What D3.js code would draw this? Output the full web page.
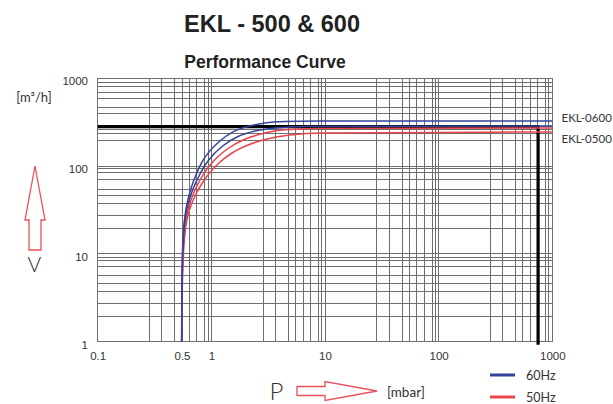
<!DOCTYPE html>
<html><head><meta charset="utf-8">
<script src="https://cdn.jsdelivr.net/npm/d3@7/dist/d3.min.js"></script>
<style>body{margin:0;background:#fff}svg{display:block}</style>
</head><body>
<script>
// ---- data ----
const xTickValues = [0.1, 0.552, 1, 10, 100, 1000];
const xTickLabels = ["0.1", "0.5", "1", "10", "100", "1000"];
const yTickValues = [1, 10, 100, 1000];
const yTickLabels = ["1", "10", "100", "1000"];
const xDecades = [0.1, 1, 10, 100, 1000];
const xGridMultipliers = [2.86, 3.67, 4.77, 5.52, 6.41, 7.46, 8.74, 9.35];
const yGridValues = [1, 1.93, 2.74, 3.71, 4.63, 5.75, 7.15, 8.5, 9.15,
  10, 19.6, 27.2, 37.7, 46, 54.8, 69.5, 85, 94.2,
  100, 197, 234, 262, 285, 395, 471, 586, 685, 796, 907, 1000];

const seriesNames = ["EKL-0600 60Hz", "EKL-0500 60Hz", "EKL-0600 50Hz", "EKL-0500 50Hz"];
const ekl0600_60_p = [0.548, 0.549, 0.554, 0.568, 0.591, 0.622, 0.668, 0.732, 0.826, 0.971, 1.19, 1.55, 2.1, 2.96, 4.43, 9, 1000];
const ekl0600_60_v = [1, 2.99, 8.1, 17.8, 29.2, 41.1, 57.8, 79.2, 111, 149, 193, 245, 283, 310, 322, 326, 326];
const ekl0500_60_p = [0.548, 0.5505, 0.5573, 0.5722, 0.5982, 0.6357, 0.6895, 0.763, 0.8705, 1.034, 1.292, 1.716, 2.421, 3.631, 6.669, 1000];
const ekl0500_60_v = [1, 2.99, 8.09, 17.3, 28.5, 40.1, 54.9, 73.2, 100.3, 133.8, 173.9, 217.4, 251.1, 271.6, 282.5, 286.2];
const ekl0600_50_p = [0.548, 0.5516, 0.5606, 0.5781, 0.608, 0.6488, 0.7107, 0.7946, 0.9157, 1.099, 1.401, 1.899, 2.734, 4.184, 8.168, 1000];
const ekl0600_50_v = [1, 2.99, 8.09, 16.86, 27.74, 37.98, 52.05, 69.45, 92.7, 122.1, 158.7, 198.3, 232.1, 257.8, 268.1, 271.6];
const ekl0500_50_p = [0.548, 0.5527, 0.564, 0.584, 0.618, 0.6648, 0.7326, 0.8276, 0.9632, 1.1675, 1.519, 2.101, 3.088, 4.92, 10.0, 1000];
const ekl0500_50_v = [1, 2.99, 8.09, 16.42, 26.33, 36.06, 48.1, 63.36, 83.44, 108.5, 141.0, 173.9, 203.5, 226.1, 238.3, 244.6];

const markerP = 750;   // mbar
const markerV = 281;   // m3/h

const legendLabels = ["60Hz", "50Hz"];
const curveLabels = ["EKL-0600", "EKL-0500"];

// ---- drawing ----
const W = 613, H = 404;
const BLUE = "#34439a", RED = "#e6464b", ARROW = "#e8505a";
const svg = d3.select("body").append("svg").attr("width", W).attr("height", H);

const x = d3.scaleLog().domain([0.1, 1000]).range([97.7, 552.3]);
const y = d3.scaleLog().domain([1, 1000]).range([341.7, 78.3]);

// titles
svg.append("text").attr("x", 272).attr("y", 31.5).attr("text-anchor", "middle")
  .attr("font-family", "Liberation Sans, Arial, sans-serif").attr("font-weight", "bold")
  .attr("font-size", 23.5).attr("fill", "#222").text("EKL - 500 & 600");
svg.append("text").attr("x", 265).attr("y", 68).attr("text-anchor", "middle")
  .attr("font-family", "Liberation Sans, Arial, sans-serif").attr("font-weight", "bold")
  .attr("font-size", 17.5).attr("fill", "#222").text("Performance Curve");

// grid
const xGridValues = [];
xDecades.forEach((d, i) => {
  xGridValues.push(d);
  if (i < xDecades.length - 1) xGridMultipliers.forEach(m => xGridValues.push(d * m));
});
const grid = svg.append("g").attr("stroke", "#6e6e6e").attr("stroke-width", 1).attr("shape-rendering", "crispEdges");
grid.selectAll("line.v").data(xGridValues).join("line").attr("class", "v")
  .attr("x1", d => x(d)).attr("x2", d => x(d)).attr("y1", y(1000)).attr("y2", y(1));
grid.selectAll("line.h").data(yGridValues).join("line").attr("class", "h")
  .attr("x1", x(0.1)).attr("x2", x(1000)).attr("y1", d => y(d)).attr("y2", d => y(d));

// axes (labels only)
const fontAxis = "Liberation Sans, Arial, sans-serif";
const gx = svg.append("g").attr("transform", `translate(0,${y(1)})`)
  .call(d3.axisBottom(x).tickValues(xTickValues).tickFormat((d, i) => xTickLabels[i]).tickSize(0).tickPadding(10));
gx.select(".domain").remove();
gx.selectAll("text").attr("font-family", fontAxis).attr("font-size", 11.5).attr("fill", "#333");
const gy = svg.append("g").attr("transform", `translate(${x(0.1)},0)`)
  .call(d3.axisLeft(y).tickValues(yTickValues).tickFormat((d, i) => yTickLabels[i]).tickSize(0).tickPadding(9.7));
gy.select(".domain").remove();
gy.selectAll("text").attr("font-family", fontAxis).attr("font-size", 11.5).attr("fill", "#333").attr("dy", "0.55em");

// black marker lines
svg.append("path")
  .attr("d", `M${x(0.1)},${y(markerV)}H${x(markerP)}V${y(1) + 3}`)
  .attr("fill", "none").attr("stroke", "#000").attr("stroke-width", 3.2);

// curves
const line = d3.line().x(d => x(d[0])).y(d => y(d[1])).curve(d3.curveMonotoneX);
const curves = [
  {p: ekl0500_50_p, v: ekl0500_50_v, c: RED},
  {p: ekl0600_50_p, v: ekl0600_50_v, c: RED},
  {p: ekl0500_60_p, v: ekl0500_60_v, c: BLUE},
  {p: ekl0600_60_p, v: ekl0600_60_v, c: BLUE}
];
svg.append("g").selectAll("path").data(curves).join("path")
  .attr("d", d => line(d.p.map((p, i) => [p, d.v[i]])))
  .attr("fill", "none").attr("stroke", d => d.c).attr("stroke-width", 1.5);

// curve labels at right
const fontRound = "Lato, 'Open Sans', sans-serif";
svg.append("text").attr("x", 561.5).attr("y", 122).attr("font-family", fontRound)
  .attr("font-size", 11.5).attr("fill", "#333").text(curveLabels[0]);
svg.append("text").attr("x", 561.5).attr("y", 143).attr("font-family", fontRound)
  .attr("font-size", 11.5).attr("fill", "#333").text(curveLabels[1]);

// legend
[[BLUE, 375, legendLabels[0]], [RED, 397, legendLabels[1]]].forEach(([c, yy, t]) => {
  svg.append("line").attr("x1", 490).attr("x2", 515).attr("y1", yy).attr("y2", yy)
    .attr("stroke", c).attr("stroke-width", 3);
  svg.append("text").attr("x", 526).attr("y", yy + 4.5).attr("font-family", fontRound)
    .attr("font-size", 12.5).attr("fill", "#333").text(t);
});

// axis name labels with arrows
svg.append("text").attr("x", 34).attr("y", 101.5).attr("text-anchor", "middle")
  .attr("font-family", fontRound).attr("font-size", 13).attr("fill", "#333").text("[m³/h]");
svg.append("path")
  .attr("d", "M35,166L45,220L41,220L41,250L29,250L29,220L25,220Z")
  .attr("fill", "#fff").attr("stroke", ARROW).attr("stroke-width", 1.3);
svg.append("text").attr("x", 34.5).attr("y", 272).attr("text-anchor", "middle")
  .attr("font-family", fontRound).attr("font-weight", 300).attr("font-size", 21).attr("fill", "#333").text("V");

svg.append("text").attr("x", 276.5).attr("y", 400).attr("text-anchor", "middle")
  .attr("font-family", fontRound).attr("font-weight", 300).attr("font-size", 24).attr("fill", "#333").text("P");
svg.append("path")
  .attr("d", "M297,386.5L325,386.5L325,381.5L377,391L325,400.5L325,395.5L297,395.5Z")
  .attr("fill", "#fff").attr("stroke", ARROW).attr("stroke-width", 1.3);
svg.append("text").attr("x", 387).attr("y", 396.5).attr("font-family", fontRound)
  .attr("font-size", 13.5).attr("fill", "#333").text("[mbar]");
</script>
</body></html>
